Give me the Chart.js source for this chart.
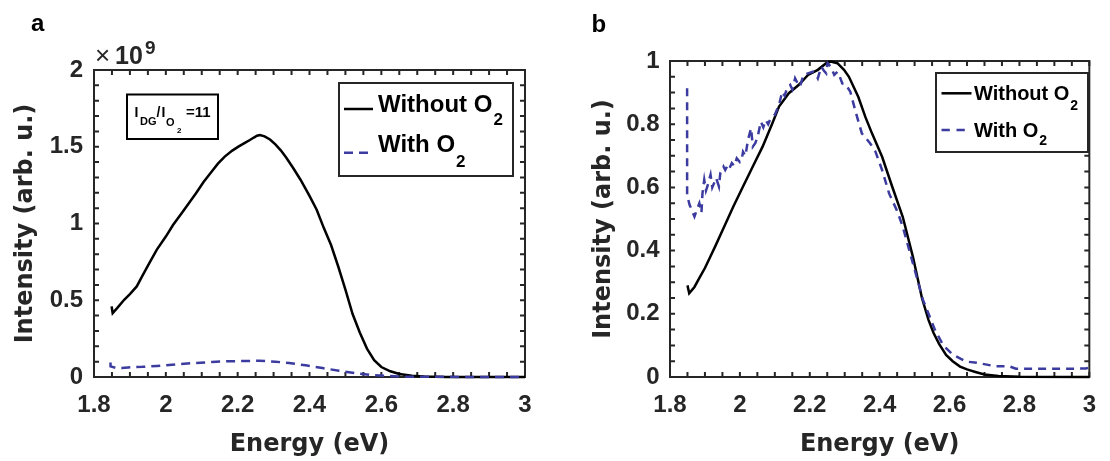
<!DOCTYPE html>
<html><head><meta charset="utf-8">
<script src="https://cdn.jsdelivr.net/npm/chart.js@4.4.1/dist/chart.umd.min.js"></script>
<style>
html,body{margin:0;padding:0;background:#fff;width:1110px;height:461px;overflow:hidden}
#wa{position:absolute;left:0;top:0;width:560px;height:461px}
#wb{position:absolute;left:560px;top:0;width:550px;height:461px}
</style></head><body>
<div id="wa"><canvas id="ca" width="560" height="461"></canvas></div>
<div id="wb"><canvas id="cb" width="550" height="461"></canvas></div>
<script>
// ---------- DATA ----------
// Panel a (intensity in units of 1e9)
const energyA_without = [1.849,1.852,1.865,1.884,1.90,1.919,1.935,1.954,1.975,2.0,2.02,2.044,2.065,2.084,2.105,2.124,2.145,2.164,2.185,2.202,2.22,2.234,2.245,2.254,2.262,2.275,2.29,2.305,2.32,2.335,2.355,2.375,2.40,2.42,2.44,2.46,2.48,2.50,2.52,2.54,2.56,2.58,2.60,2.625,2.65,2.685,2.72,2.78,2.85,3.0];
const intensityA_without = [0.46,0.416,0.45,0.503,0.54,0.59,0.66,0.742,0.83,0.915,0.99,1.067,1.135,1.197,1.27,1.328,1.39,1.436,1.475,1.501,1.525,1.544,1.56,1.572,1.577,1.568,1.547,1.515,1.477,1.43,1.36,1.285,1.18,1.09,0.97,0.86,0.72,0.57,0.41,0.29,0.185,0.11,0.065,0.037,0.02,0.008,0.003,0.0005,0,0];
const energyA_with = [1.846,1.846,1.86,1.877,1.895,1.915,1.935,1.952,1.975,1.998,2.035,2.082,2.128,2.166,2.212,2.259,2.305,2.343,2.389,2.436,2.482,2.529,2.575,2.613,2.669,2.75,3.0];
const intensityA_with = [0.095,0.069,0.06,0.058,0.062,0.065,0.066,0.069,0.072,0.076,0.084,0.091,0.098,0.102,0.104,0.106,0.1,0.091,0.076,0.058,0.041,0.024,0.013,0.007,0.002,0.001,0.0];

// Panel b (normalized)
const energyB_without = [1.85,1.855,1.87,1.885,1.90,1.915,1.93,1.953,1.981,2.009,2.037,2.065,2.093,2.112,2.14,2.168,2.195,2.223,2.247,2.26,2.279,2.298,2.312,2.339,2.359,2.378,2.407,2.436,2.466,2.495,2.521,2.54,2.554,2.57,2.59,2.609,2.63,2.65,2.674,2.70,2.74,2.80,3.0];
const intensityB_without = [0.29,0.265,0.285,0.315,0.345,0.38,0.415,0.471,0.539,0.603,0.666,0.729,0.803,0.856,0.898,0.924,0.956,0.972,0.993,0.998,0.993,0.972,0.95,0.886,0.823,0.771,0.697,0.602,0.507,0.381,0.25,0.18,0.14,0.105,0.07,0.05,0.033,0.024,0.016,0.008,0.003,0.001,0];
const energyB_with = [1.849,1.849,1.856,1.87,1.877,1.884,1.89,1.893,1.898,1.903,1.907,1.916,1.921,1.926,1.932,1.94,1.944,1.953,1.958,1.965,1.97,1.977,1.984,1.991,2.0,2.005,2.009,2.016,2.023,2.032,2.037,2.044,2.051,2.06,2.067,2.074,2.081,2.088,2.1,2.112,2.121,2.128,2.135,2.144,2.15,2.158,2.165,2.172,2.182,2.195,2.209,2.216,2.223,2.233,2.24,2.247,2.251,2.26,2.27,2.279,2.286,2.293,2.302,2.316,2.33,2.349,2.373,2.388,2.407,2.427,2.451,2.466,2.495,2.524,2.558,2.582,2.61,2.647,2.684,2.73,2.77,2.79,2.85,2.9,2.95,2.99,3.0];
const intensityB_with = [0.914,0.576,0.545,0.508,0.53,0.55,0.52,0.582,0.624,0.59,0.603,0.64,0.6,0.613,0.63,0.603,0.645,0.666,0.655,0.67,0.66,0.677,0.668,0.692,0.68,0.687,0.713,0.70,0.75,0.787,0.729,0.74,0.761,0.808,0.79,0.813,0.80,0.819,0.83,0.861,0.903,0.89,0.914,0.924,0.91,0.945,0.93,0.919,0.956,0.961,0.966,0.96,0.945,0.982,0.97,0.961,0.993,0.982,0.956,0.966,0.95,0.929,0.927,0.903,0.844,0.771,0.739,0.713,0.655,0.581,0.523,0.476,0.36,0.244,0.15,0.10,0.07,0.049,0.044,0.034,0.034,0.026,0.026,0.026,0.026,0.027,0.03];

const xTitle = 'Energy (eV)';
const yTitle = 'Intensity (arb. u.)';

// ---------- STYLE ----------
const TFONT = '"DejaVu Sans", sans-serif';
const FONT = '"Liberation Sans", Arial, sans-serif';
const INK = '#262626';
const BLUE = '#3b3ba0';

function pts(xs, ys){ return xs.map((x,i)=>({x:x, y:ys[i]})); }
function txt(ctx, s, x, y, size, weight, color, fam){
  ctx.font = weight + ' ' + size + 'px ' + (fam || FONT);
  ctx.fillStyle = color; ctx.textAlign = 'left'; ctx.textBaseline = 'alphabetic';
  ctx.fillText(s, x, y);
  return x + ctx.measureText(s).width;
}

const framePlugin = {
  id: 'frame',
  beforeDatasetsDraw(chart, args, o) {
    const ctx = chart.ctx, a = chart.chartArea, xs = chart.scales.x, ys = chart.scales.y;
    ctx.save();
    ctx.strokeStyle = INK; ctx.lineWidth = 2; ctx.setLineDash([]);
    const L = 5;
    ctx.beginPath();
    const nx = Math.round((o.xMax - o.xMin) / o.xMinor);
    for (let i = 0; i <= nx; i++) {
      const px = xs.getPixelForValue(o.xMin + i * o.xMinor);
      ctx.moveTo(px, a.bottom); ctx.lineTo(px, a.bottom - L);
      ctx.moveTo(px, a.top); ctx.lineTo(px, a.top + L);
    }
    const ny = Math.round((o.yMax - o.yMin) / o.yMinor);
    for (let i = 0; i <= ny; i++) {
      const py = ys.getPixelForValue(o.yMin + i * o.yMinor);
      ctx.moveTo(a.left, py); ctx.lineTo(a.left + L, py);
      ctx.moveTo(a.right, py); ctx.lineTo(a.right - L, py);
    }
    ctx.stroke();
    ctx.strokeRect(a.left, a.top, a.right - a.left, a.bottom - a.top);
    ctx.restore();
  }
};

function makeOptions(cfg){
  return {
    responsive: false, animation: false, devicePixelRatio: 1,
    layout: {padding: {left: 0, top: cfg.top, right: cfg.right, bottom: 0}},
    plugins: {legend: {display: false}, tooltip: {enabled: false},
      frame: {xMin: 1.8, xMax: 3, xMinor: 0.05, yMin: cfg.yMin, yMax: cfg.yMax, yMinor: cfg.yMinor}},
    scales: {
      x: {type: 'linear', min: 1.8, max: 3,
        afterFit: s => { s.height = cfg.xH; },
        grid: {display: false, drawTicks: false}, border: {display: false},
        ticks: {stepSize: 0.2, padding: 14, color: INK, autoSkip: false, maxRotation: 0,
          font: {family: FONT, size: 24, weight: 'bold'},
          callback: v => String(+(+v).toFixed(1))},
        title: {display: true, text: xTitle, color: INK,
          font: {family: TFONT, size: 24, weight: 'bold'}, padding: {top: 0, bottom: 2}}},
      y: {type: 'linear', min: cfg.yMin, max: cfg.yMax,
        afterFit: s => { s.width = cfg.yW; },
        grid: {display: false, drawTicks: false}, border: {display: false},
        ticks: {stepSize: cfg.yStep, padding: cfg.yPad, color: INK, autoSkip: false,
          font: {family: FONT, size: 24, weight: 'bold'},
          callback: v => String(+(+v).toFixed(1))},
        title: {display: true, text: yTitle, color: INK,
          font: {family: TFONT, size: 24, weight: 'bold'}, padding: {top: cfg.yTitlePad, bottom: 0}}}
    }
  };
}

function ds(xs, ys, color, dash, order){
  return {data: pts(xs, ys), showLine: true, borderColor: color, backgroundColor: color,
    borderWidth: 2.5, borderDash: dash, pointRadius: 0, pointHoverRadius: 0, fill: false,
    tension: 0, clip: false, order: order};
}

// ---------- PANEL A ----------
const overlayA = {
  id: 'overlayA',
  afterDraw(chart){
    const ctx = chart.ctx;
    let e;
    ctx.save();
    txt(ctx, 'a', 31, 30.7, 24, 'bold', '#000');
    // exponent
    txt(ctx, '\u00d7', 95, 64, 26, 'normal', INK);
    txt(ctx, '10', 115, 64, 25, 'bold', INK);
    txt(ctx, '9', 145, 54, 19, 'bold', INK);
    // ratio annotation
    ctx.fillStyle = '#fff'; ctx.fillRect(127, 94.5, 91, 44.5);
    ctx.strokeStyle = '#000'; ctx.lineWidth = 2; ctx.setLineDash([]);
    ctx.strokeRect(127, 94.5, 91, 44.5);
    txt(ctx, 'I', 134.5, 117.3, 14, 'bold', '#000');
    txt(ctx, 'DG', 140, 125, 11, 'bold', '#000');
    txt(ctx, '/', 156.5, 117.3, 14, 'bold', '#000');
    txt(ctx, 'I', 161.5, 117.3, 14, 'bold', '#000');
    txt(ctx, 'O', 166, 125.7, 11, 'bold', '#000');
    txt(ctx, '2', 177, 133.3, 8, 'bold', '#000');
    txt(ctx, '=11', 186, 117.3, 15, 'bold', '#000');
    // legend
    ctx.fillStyle = '#fff'; ctx.fillRect(339, 83, 174, 93);
    ctx.strokeStyle = INK; ctx.lineWidth = 2; ctx.strokeRect(339, 83, 174, 93);
    ctx.lineWidth = 2.5;
    ctx.strokeStyle = '#000'; ctx.beginPath(); ctx.moveTo(344, 109); ctx.lineTo(373, 109); ctx.stroke();
    e = txt(ctx, 'Without O', 378, 111.7, 24, 'bold', '#000');
    txt(ctx, '2', e + 1, 125, 17, 'bold', '#000');
    ctx.strokeStyle = BLUE; ctx.setLineDash([9, 6]); ctx.beginPath(); ctx.moveTo(344, 152.7); ctx.lineTo(368, 152.7); ctx.stroke();
    ctx.setLineDash([]);
    e = txt(ctx, 'With O', 378, 151.7, 24, 'bold', '#000');
    txt(ctx, '2', e + 1, 167.3, 17, 'bold', '#000');
    ctx.restore();
  }
};

new Chart(document.getElementById('ca'), {
  type: 'scatter',
  data: {datasets: [
    ds(energyA_without, intensityA_without, '#000', [], 2),
    ds(energyA_with, intensityA_with, BLUE, [9, 6], 1)
  ]},
  options: makeOptions({top: 70, right: 35, xH: 84, yW: 94, yMin: 0, yMax: 2, yStep: 0.5, yMinor: 0.1, yPad: 11, yTitlePad: 11}),
  plugins: [framePlugin, overlayA]
});

// ---------- PANEL B ----------
const overlayB = {
  id: 'overlayB',
  afterDraw(chart){
    const ctx = chart.ctx;
    let e;
    ctx.save();
    txt(ctx, 'b', 31.5, 31.5, 24, 'bold', '#000');
    ctx.fillStyle = '#fff'; ctx.fillRect(376, 73, 152, 79);
    ctx.strokeStyle = INK; ctx.lineWidth = 2; ctx.setLineDash([]); ctx.strokeRect(376, 73, 152, 79);
    ctx.lineWidth = 2.5;
    ctx.strokeStyle = '#000'; ctx.beginPath(); ctx.moveTo(381.5, 93.3); ctx.lineTo(411.5, 93.3); ctx.stroke();
    e = txt(ctx, 'Without O', 414, 100, 20, 'bold', '#000');
    txt(ctx, '2', e + 1, 110, 14, 'bold', '#000');
    ctx.strokeStyle = BLUE; ctx.setLineDash([8.3, 6.7]); ctx.beginPath(); ctx.moveTo(381.5, 130); ctx.lineTo(405, 130); ctx.stroke();
    ctx.setLineDash([]);
    e = txt(ctx, 'With O', 414, 136.7, 20, 'bold', '#000');
    txt(ctx, '2', e + 1, 145, 14, 'bold', '#000');
    ctx.restore();
  }
};

new Chart(document.getElementById('cb'), {
  type: 'scatter',
  data: {datasets: [
    ds(energyB_without, intensityB_without, '#000', [], 2),
    ds(energyB_with, intensityB_with, BLUE, [8, 6], 1)
  ]},
  options: makeOptions({top: 61, right: 10, xH: 84, yW: 110, yMin: 0, yMax: 1, yStep: 0.2, yMinor: 0.05, yPad: 10.5, yTitlePad: 29.6}),
  plugins: [framePlugin, overlayB]
});
</script>
</body></html>
